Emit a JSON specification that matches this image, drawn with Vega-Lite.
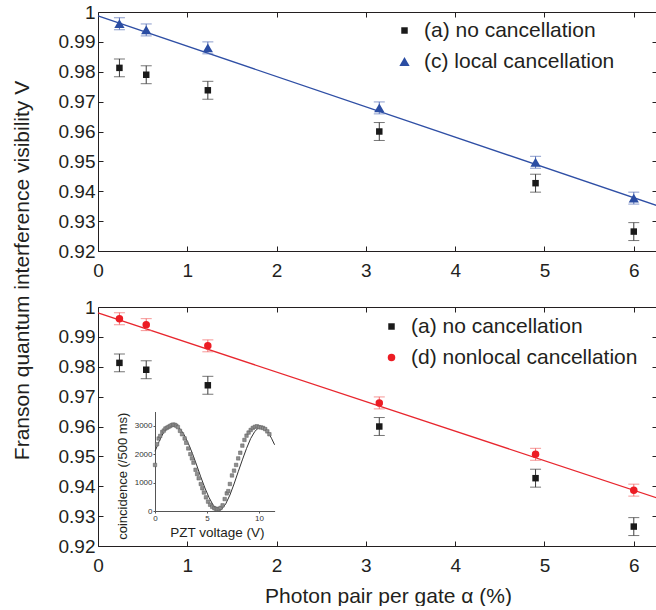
{
  "$schema": "https://vega.github.io/schema/vega-lite/v6.json",
  "padding": {"left": 10, "top": 3, "right": 0, "bottom": 0},
  "bounds": "flush",
  "spacing": 56,
  "config": {
    "font": "Liberation Sans",
    "view": {"stroke": null},
    "axis": {"grid": false, "labelFontSize": 19, "labelColor": "#231f20", "domainColor": "#231f20", "tickColor": "#231f20", "titleFontSize": 21, "titleFontWeight": "normal", "titleColor": "#231f20", "labelFlush": false, "labelOverlap": false},
    "legend": {"labelFontSize": 21, "labelColor": "#231f20", "padding": 0, "labelLimit": 400}
  },
  "resolve": {"scale": {"color": "independent", "shape": "independent", "size": "independent"}, "legend": {"color": "independent", "shape": "independent"}},
  "datasets": {
    "top": [
      {"alpha": 0.24, "V": 0.9813, "err": 0.003, "series": "(a) no cancellation"},
      {"alpha": 0.54, "V": 0.979, "err": 0.003, "series": "(a) no cancellation"},
      {"alpha": 1.23, "V": 0.9738, "err": 0.003, "series": "(a) no cancellation"},
      {"alpha": 3.15, "V": 0.96, "err": 0.003, "series": "(a) no cancellation"},
      {"alpha": 4.9, "V": 0.9427, "err": 0.003, "series": "(a) no cancellation"},
      {"alpha": 6.0, "V": 0.9265, "err": 0.003, "series": "(a) no cancellation"},
      {"alpha": 0.24, "V": 0.9961, "err": 0.002, "series": "(c) local cancellation"},
      {"alpha": 0.54, "V": 0.994, "err": 0.002, "series": "(c) local cancellation"},
      {"alpha": 1.23, "V": 0.988, "err": 0.002, "series": "(c) local cancellation"},
      {"alpha": 3.15, "V": 0.9679, "err": 0.002, "series": "(c) local cancellation"},
      {"alpha": 4.9, "V": 0.9497, "err": 0.002, "series": "(c) local cancellation"},
      {"alpha": 6.0, "V": 0.9377, "err": 0.002, "series": "(c) local cancellation"}
    ],
    "bottom": [
      {"alpha": 0.24, "V": 0.9813, "err": 0.003, "series": "(a) no cancellation"},
      {"alpha": 0.54, "V": 0.979, "err": 0.003, "series": "(a) no cancellation"},
      {"alpha": 1.23, "V": 0.9738, "err": 0.003, "series": "(a) no cancellation"},
      {"alpha": 3.15, "V": 0.96, "err": 0.003, "series": "(a) no cancellation"},
      {"alpha": 4.9, "V": 0.9427, "err": 0.003, "series": "(a) no cancellation"},
      {"alpha": 6.0, "V": 0.9265, "err": 0.003, "series": "(a) no cancellation"},
      {"alpha": 0.24, "V": 0.9961, "err": 0.002, "series": "(d) nonlocal cancellation"},
      {"alpha": 0.54, "V": 0.9941, "err": 0.002, "series": "(d) nonlocal cancellation"},
      {"alpha": 1.23, "V": 0.987, "err": 0.002, "series": "(d) nonlocal cancellation"},
      {"alpha": 3.15, "V": 0.9679, "err": 0.002, "series": "(d) nonlocal cancellation"},
      {"alpha": 4.9, "V": 0.9507, "err": 0.002, "series": "(d) nonlocal cancellation"},
      {"alpha": 6.0, "V": 0.9387, "err": 0.002, "series": "(d) nonlocal cancellation"}
    ],
    "topfit": [{"alpha": 0, "V": 0.9987}, {"alpha": 6.26, "V": 0.9352}],
    "bottomfit": [{"alpha": 0, "V": 0.998}, {"alpha": 6.26, "V": 0.9361}],
    "insetcurve": [
      {"volt": 0.0, "counts": 2100}, {"volt": 0.4, "counts": 2450}, {"volt": 0.8, "counts": 2750},
      {"volt": 1.2, "counts": 2940}, {"volt": 1.6, "counts": 3030}, {"volt": 2.0, "counts": 3020},
      {"volt": 2.4, "counts": 2900}, {"volt": 2.8, "counts": 2680}, {"volt": 3.2, "counts": 2380},
      {"volt": 3.6, "counts": 2020}, {"volt": 4.0, "counts": 1620}, {"volt": 4.4, "counts": 1200},
      {"volt": 4.8, "counts": 810}, {"volt": 5.2, "counts": 470}, {"volt": 5.6, "counts": 200},
      {"volt": 6.0, "counts": 50}, {"volt": 6.2, "counts": 30}, {"volt": 6.4, "counts": 60},
      {"volt": 6.8, "counts": 250}, {"volt": 7.2, "counts": 560}, {"volt": 7.6, "counts": 950},
      {"volt": 8.0, "counts": 1380}, {"volt": 8.4, "counts": 1800}, {"volt": 8.8, "counts": 2200},
      {"volt": 9.2, "counts": 2550}, {"volt": 9.6, "counts": 2800}, {"volt": 10.0, "counts": 2940},
      {"volt": 10.4, "counts": 2960}, {"volt": 10.8, "counts": 2820}, {"volt": 11.2, "counts": 2560},
      {"volt": 11.5, "counts": 2330}
    ],
    "insetpts": [
      {"volt": 0.0, "counts": 1620}, {"volt": 0.2, "counts": 2350}, {"volt": 0.35, "counts": 2550},
      {"volt": 0.5, "counts": 2640}, {"volt": 0.7, "counts": 2780}, {"volt": 0.85, "counts": 2830},
      {"volt": 1.0, "counts": 2900}, {"volt": 1.15, "counts": 2930}, {"volt": 1.3, "counts": 2960},
      {"volt": 1.45, "counts": 2990}, {"volt": 1.6, "counts": 3020}, {"volt": 1.75, "counts": 3040},
      {"volt": 1.9, "counts": 3030}, {"volt": 2.05, "counts": 3000}, {"volt": 2.2, "counts": 2950},
      {"volt": 2.4, "counts": 2820}, {"volt": 2.6, "counts": 2700}, {"volt": 2.85, "counts": 2550},
      {"volt": 3.0, "counts": 2400}, {"volt": 3.2, "counts": 2200}, {"volt": 3.4, "counts": 2000},
      {"volt": 3.55, "counts": 1850}, {"volt": 3.7, "counts": 1700}, {"volt": 3.9, "counts": 1450},
      {"volt": 4.05, "counts": 1300}, {"volt": 4.2, "counts": 1150}, {"volt": 4.4, "counts": 950},
      {"volt": 4.55, "counts": 800}, {"volt": 4.7, "counts": 650}, {"volt": 4.9, "counts": 480},
      {"volt": 5.1, "counts": 330}, {"volt": 5.3, "counts": 220}, {"volt": 5.5, "counts": 150},
      {"volt": 5.7, "counts": 100}, {"volt": 5.85, "counts": 80}, {"volt": 6.0, "counts": 60},
      {"volt": 6.15, "counts": 70}, {"volt": 6.3, "counts": 110}, {"volt": 6.5, "counts": 200},
      {"volt": 6.7, "counts": 420}, {"volt": 6.9, "counts": 620}, {"volt": 7.05, "counts": 700},
      {"volt": 7.2, "counts": 950}, {"volt": 7.4, "counts": 1250}, {"volt": 7.6, "counts": 1420},
      {"volt": 7.8, "counts": 1620}, {"volt": 8.0, "counts": 1850}, {"volt": 8.2, "counts": 2050},
      {"volt": 8.4, "counts": 2300}, {"volt": 8.6, "counts": 2500}, {"volt": 8.8, "counts": 2650},
      {"volt": 9.0, "counts": 2760}, {"volt": 9.2, "counts": 2850}, {"volt": 9.4, "counts": 2920},
      {"volt": 9.6, "counts": 2960}, {"volt": 9.8, "counts": 2980}, {"volt": 10.0, "counts": 2950},
      {"volt": 10.2, "counts": 2940}, {"volt": 10.4, "counts": 2920}, {"volt": 10.6, "counts": 2880},
      {"volt": 10.8, "counts": 2800}, {"volt": 11.0, "counts": 2700}
    ]
  },
  "vconcat": [
    {
      "width": 559, "height": 239,
      "resolve": {"scale": {"color": "independent", "shape": "independent", "size": "independent"}, "axis": {"x": "independent", "y": "independent"}},
      "layer": [
        {
          "data": {"name": "topfit"},
          "mark": {"type": "line", "color": "#2f4fa5", "strokeWidth": 1.3},
          "encoding": {
            "x": {"field": "alpha", "type": "quantitative", "scale": {"domain": [0, 6.26], "nice": false},
                  "axis": {"orient": "top", "labels": false, "title": null, "values": [1, 2, 3, 4, 5, 6], "tickSize": -5}},
            "y": {"field": "V", "type": "quantitative", "scale": {"domain": [0.92, 1], "nice": false, "zero": false},
                  "axis": {"orient": "right", "labels": false, "title": null, "values": [0.93, 0.94, 0.95, 0.96, 0.97, 0.98, 0.99], "tickSize": -5}}
          }
        },
        {
          "data": {"name": "top"},
          "mark": {"type": "errorbar", "ticks": {"size": 11}},
          "encoding": {
            "x": {"field": "alpha", "type": "quantitative", "axis": null},
            "y": {"field": "V", "type": "quantitative", "axis": null},
            "yError": {"field": "err"},
            "color": {"field": "series", "type": "nominal",
                      "scale": {"domain": ["(a) no cancellation", "(c) local cancellation"], "range": ["#3c3c3c", "#5a72b8"]}, "legend": null}
          }
        },
        {
          "data": {"name": "top"},
          "mark": {"type": "point", "filled": true, "opacity": 1},
          "encoding": {
            "x": {"field": "alpha", "type": "quantitative",
                  "axis": {"orient": "bottom", "title": null, "values": [0, 1, 2, 3, 4, 5, 6], "tickSize": -5, "labelPadding": 15}},
            "y": {"field": "V", "type": "quantitative",
                  "axis": {"orient": "left", "title": null, "values": [0.92, 0.93, 0.94, 0.95, 0.96, 0.97, 0.98, 0.99, 1], "format": ".2~f", "tickSize": -5, "labelPadding": 8}},
            "color": {"field": "series", "type": "nominal",
                      "scale": {"domain": ["(a) no cancellation", "(c) local cancellation"], "range": ["#1a1a1a", "#2b4da3"]},
                      "legend": {"orient": "none", "legendX": 296, "legendY": 8, "title": null, "symbolSize": 30, "rowPadding": 9, "labelOffset": 9}},
            "shape": {"field": "series", "type": "nominal",
                      "scale": {"domain": ["(a) no cancellation", "(c) local cancellation"], "range": ["square", "triangle-up"]},
                      "legend": {"orient": "none", "legendX": 296, "legendY": 8, "title": null, "symbolSize": 30, "rowPadding": 9, "labelOffset": 9}},
            "size": {"field": "series", "type": "ordinal",
                     "scale": {"domain": ["(a) no cancellation", "(c) local cancellation"], "range": [42, 105]}, "legend": null}
          }
        }
      ]
    },
    {
      "width": 559, "height": 239,
      "resolve": {"scale": {"x": "independent", "y": "independent", "color": "independent", "shape": "independent", "size": "independent"}, "axis": {"x": "independent", "y": "independent"}},
      "layer": [
        {
          "data": {"name": "bottomfit"},
          "mark": {"type": "line", "color": "#e8262e", "strokeWidth": 1.3},
          "encoding": {
            "x": {"field": "alpha", "type": "quantitative", "scale": {"domain": [0, 6.26], "nice": false},
                  "axis": {"orient": "top", "labels": false, "title": null, "values": [1, 2, 3, 4, 5, 6], "tickSize": -5}},
            "y": {"field": "V", "type": "quantitative", "scale": {"domain": [0.92, 1], "nice": false, "zero": false},
                  "axis": {"orient": "right", "labels": false, "title": null, "values": [0.93, 0.94, 0.95, 0.96, 0.97, 0.98, 0.99], "tickSize": -5}}
          }
        },
        {
          "data": {"name": "bottom"},
          "mark": {"type": "errorbar", "ticks": {"size": 11}},
          "encoding": {
            "x": {"field": "alpha", "type": "quantitative", "scale": {"domain": [0, 6.26], "nice": false}, "axis": null},
            "y": {"field": "V", "type": "quantitative", "scale": {"domain": [0.92, 1], "nice": false, "zero": false}, "axis": null},
            "yError": {"field": "err"},
            "color": {"field": "series", "type": "nominal",
                      "scale": {"domain": ["(a) no cancellation", "(d) nonlocal cancellation"], "range": ["#3c3c3c", "#f26a6a"]}, "legend": null}
          }
        },
        {
          "data": {"name": "bottom"},
          "mark": {"type": "point", "filled": true, "opacity": 1},
          "encoding": {
            "x": {"field": "alpha", "type": "quantitative", "scale": {"domain": [0, 6.26], "nice": false},
                  "axis": {"orient": "bottom", "title": "Photon pair per gate α (%)", "values": [0, 1, 2, 3, 4, 5, 6], "tickSize": -5, "labelPadding": 15,
                           "titleX": 290, "titleY": 56, "titleBaseline": "alphabetic"}},
            "y": {"field": "V", "type": "quantitative", "scale": {"domain": [0.92, 1], "nice": false, "zero": false},
                  "axis": {"orient": "left", "title": "Franson quantum interference visibility V", "values": [0.92, 0.93, 0.94, 0.95, 0.96, 0.97, 0.98, 0.99, 1], "format": ".2~f", "tickSize": -5, "labelPadding": 8,
                           "titleX": -70, "titleY": -37, "titleBaseline": "alphabetic", "titleAngle": -90, "titleAlign": "center"}},
            "color": {"field": "series", "type": "nominal",
                      "scale": {"domain": ["(a) no cancellation", "(d) nonlocal cancellation"], "range": ["#1a1a1a", "#ec1c24"]},
                      "legend": {"orient": "none", "legendX": 283, "legendY": 9, "title": null, "symbolSize": 30, "rowPadding": 9, "labelOffset": 9}},
            "shape": {"field": "series", "type": "nominal",
                      "scale": {"domain": ["(a) no cancellation", "(d) nonlocal cancellation"], "range": ["square", "circle"]},
                      "legend": {"orient": "none", "legendX": 283, "legendY": 9, "title": null, "symbolSize": 30, "rowPadding": 9, "labelOffset": 9}},
            "size": {"field": "series", "type": "ordinal",
                     "scale": {"domain": ["(a) no cancellation", "(d) nonlocal cancellation"], "range": [42, 56]}, "legend": null}
          }
        },
        {
          "data": {"name": "insetcurve"},
          "mark": {"type": "line", "color": "#333333", "strokeWidth": 1},
          "encoding": {
            "x": {"field": "volt", "type": "quantitative", "scale": {"domain": [0, 11.5], "range": [57, 176.6], "nice": false}, "axis": null},
            "y": {"field": "counts", "type": "quantitative", "scale": {"domain": [0, 3500], "range": [204, 104.5], "nice": false}, "axis": null}
          }
        },
        {
          "data": {"name": "insetpts"},
          "mark": {"type": "square", "filled": true, "color": "#8f8f8f", "stroke": "#5a5a5a", "strokeWidth": 0.5, "size": 12, "opacity": 1},
          "encoding": {
            "x": {"field": "volt", "type": "quantitative", "scale": {"domain": [0, 11.5], "range": [57, 176.6], "nice": false},
                  "axis": {"orient": "bottom", "offset": -35, "values": [0, 5, 10], "labelFontSize": 8, "tickSize": 2, "labelPadding": 1,
                           "domainColor": "#555555", "tickColor": "#555555", "labelColor": "#333333",
                           "title": "PZT voltage (V)", "titleFontSize": 13.5, "titleX": 118.8, "titleY": 25, "titleBaseline": "alphabetic"}},
            "y": {"field": "counts", "type": "quantitative", "scale": {"domain": [0, 3500], "range": [204, 104.5], "nice": false},
                  "axis": {"orient": "left", "offset": -57, "values": [0, 1000, 2000, 3000], "format": "d", "labelFontSize": 8, "tickSize": 2, "labelPadding": 1,
                           "domainColor": "#555555", "tickColor": "#555555", "labelColor": "#333333",
                           "title": "coincidence (/500 ms)", "titleFontSize": 13, "titleX": -29, "titleY": 168.7, "titleBaseline": "alphabetic", "titleAngle": -90, "titleAlign": "center"}}
          }
        }
      ]
    }
  ]
}
